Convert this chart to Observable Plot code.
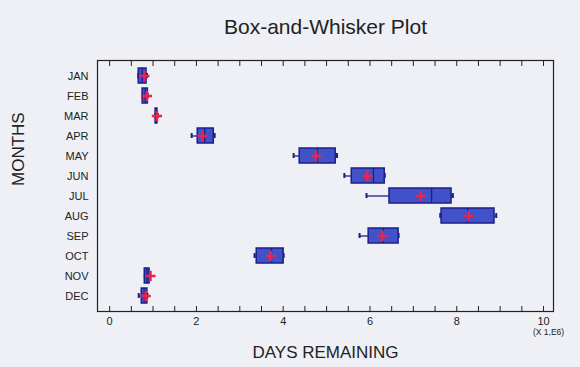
<!DOCTYPE html>
<html>
<head>
<meta charset="utf-8">
<script src="https://cdn.jsdelivr.net/npm/d3@7"></script>
<script src="https://cdn.jsdelivr.net/npm/@observablehq/plot@0.6"></script>
<style>
  html, body { margin: 0; padding: 0; background: #eef0f5; }
  #chart { width: 580px; height: 367px; }
  svg { font-family: "Liberation Sans", Arial, sans-serif; }
</style>
</head>
<body>
<div id="chart"></div>
<script>
const months = ["JAN","FEB","MAR","APR","MAY","JUN","JUL","AUG","SEP","OCT","NOV","DEC"];
const lo     = [0.66, 0.76, 1.05, 1.89, 4.24, 5.41, 5.92, 7.62, 5.76, 3.34, 0.81, 0.67];
const q1     = [0.67, 0.76, 1.06, 2.03, 4.38, 5.58, 6.45, 7.65, 5.97, 3.39, 0.81, 0.74];
const median = [0.75, 0.82, 1.08, 2.19, 4.79, 6.08, 7.42, 8.25, 6.31, 3.73, 0.86, 0.80];
const q3     = [0.85, 0.88, 1.10, 2.40, 5.21, 6.34, 7.88, 8.87, 6.66, 4.01, 0.92, 0.87];
const hi     = [0.86, 0.88, 1.11, 2.42, 5.24, 6.34, 7.91, 8.91, 6.66, 4.01, 0.92, 0.87];
const mean   = [0.80, 0.86, 1.09, 2.14, 4.76, 5.94, 7.17, 8.27, 6.29, 3.71, 0.94, 0.83];
const xTicks = d3.range(0, 10.01, 0.5);
const xLabels = [0, 2, 4, 6, 8, 10];

const data = months.map((m, i) => ({month: m, lo: lo[i], q1: q1[i], median: median[i], q3: q3[i], hi: hi[i], mean: mean[i]}));

const navy = "#1a1f8a";
const boxFill = "#4152c8";
const red = "#f0224a";
const ink = "#222";

const chart = Plot.plot({
  width: 580,
  height: 367,
  marginLeft: 97,
  marginRight: 27,
  marginTop: 60,
  marginBottom: 56,
  style: {background: "#eef0f5", fontFamily: "Liberation Sans, Arial, sans-serif", color: ink},
  x: {domain: [-0.28, 10.23]},
  y: {type: "band", domain: months, paddingInner: 0.25, paddingOuter: 0.38},
  marks: [
    Plot.frame({stroke: ink, strokeWidth: 1.2}),
    Plot.axisX({anchor: "bottom", ticks: xTicks, tickSize: -5, tickPadding: 11,
      tickFormat: d => xLabels.includes(d) ? String(d) : "", fontSize: 11, label: null}),
    Plot.axisX({anchor: "top", ticks: xTicks, tickSize: -5, tickFormat: () => "", label: null}),
    Plot.axisY({anchor: "left", tickSize: 0, tickPadding: 9, fontSize: 11, label: null}),
    Plot.ruleY(data, {y: "month", x1: "lo", x2: "q1", stroke: navy, strokeWidth: 1.3}),
    Plot.ruleY(data, {y: "month", x1: "q3", x2: "hi", stroke: navy, strokeWidth: 1.3}),
    Plot.tickX(data, {y: "month", x: "lo", stroke: navy, strokeWidth: 2, insetTop: 5, insetBottom: 5}),
    Plot.tickX(data, {y: "month", x: "hi", stroke: navy, strokeWidth: 2, insetTop: 5, insetBottom: 5}),
    Plot.barX(data, {y: "month", x1: "q1", x2: "q3", fill: boxFill, stroke: navy, strokeWidth: 1.5}),
    Plot.tickX(data, {y: "month", x: "median", stroke: navy, strokeWidth: 1.3}),
    Plot.dot(data, {y: "month", x: "mean", symbol: "plus", r: 3.4, stroke: red, strokeWidth: 2.6}),
    Plot.text(["(X 1,E6)"], {x: 10, frameAnchor: "bottom", dx: 5, dy: 23, fontSize: 8.5, fill: ink}),
    Plot.text(["DAYS REMAINING"], {frameAnchor: "bottom", dy: 46, fontSize: 17, fill: ink}),
    Plot.text(["MONTHS"], {frameAnchor: "left", dx: -79, rotate: -90, fontSize: 17, fill: ink}),
    Plot.text(["Box-and-Whisker Plot"], {frameAnchor: "top", dy: -41, fontSize: 21, fill: ink})
  ]
});
document.getElementById("chart").appendChild(chart);
</script>
</body>
</html>
